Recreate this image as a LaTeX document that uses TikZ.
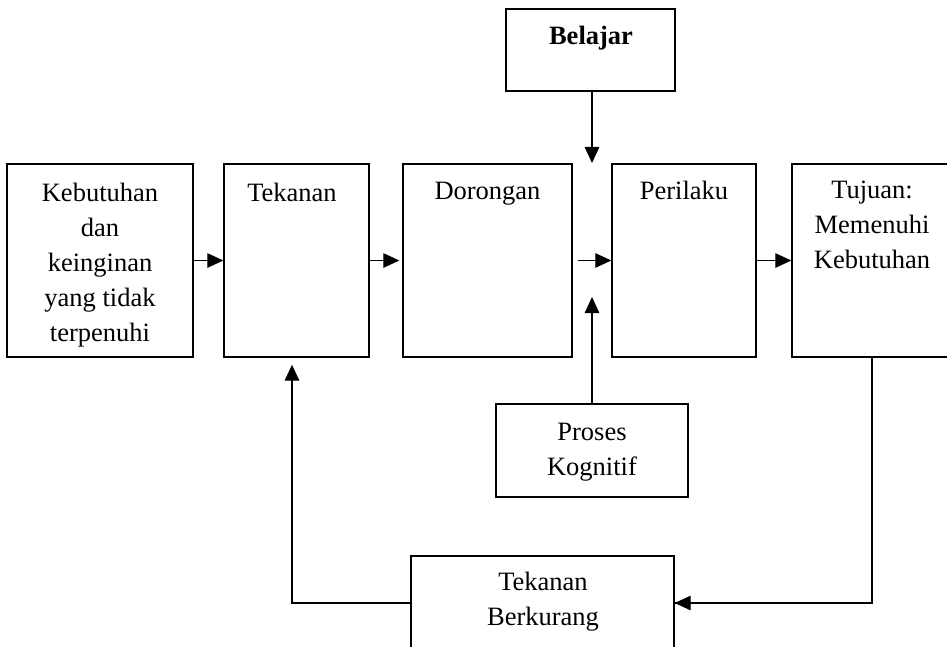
\documentclass[tikz,border=0pt]{standalone}
\usepackage{fontspec}
\setmainfont{Liberation Serif}
\usetikzlibrary{arrows.meta}
\begin{document}
\begin{tikzpicture}[x=1pt,y=-1pt,
  box/.style={draw=black,line width=1.4pt,minimum width=#1,inner sep=0pt,rectangle},
  lbl/.style={anchor=base,inner sep=0pt,font=\fontsize{26.5}{35}\selectfont},
  link/.style={line width=1.3pt,-{Triangle[length=16pt,width=14.5pt]}},
  wire/.style={line width=1.3pt}]
\useasboundingbox (0,0) rectangle (947,647);
\fill[white] (0,0) rectangle (947,647);
\clip (0,0) rectangle (947,647);

% main row of boxes
\node[box=186pt,minimum height=193pt] (need) at (100,260.5) {};
\node[box=145pt,minimum height=193pt] (press) at (296.5,260.5) {};
\node[box=169pt,minimum height=193pt] (drive) at (487.5,260.5) {};
\node[box=144pt,minimum height=193pt] (behav) at (684,260.5) {};
\node[box=160pt,minimum height=193pt] (goal) at (872,260.5) {};

% side boxes
\node[box=169pt,minimum height=82pt] (learn) at (590.5,50) {};
\node[box=192pt,minimum height=93pt] (cogn) at (592,450.5) {};
\node[box=263pt,minimum height=94pt] (relief) at (542.5,603) {};

% texts
\node[lbl] (tneed) at (100,201) {\begin{tabular}[t]{@{}c@{}}Kebutuhan\\dan\\keinginan\\yang tidak\\terpenuhi\end{tabular}};
\node[lbl] (tpress) at (292,201) {Tekanan};
\node[lbl] (tdrive) at (487.5,200) {Dorongan};
\node[lbl] (tbehav) at (684,200) {Perilaku};
\node[lbl] (tgoal) at (872,199) {\begin{tabular}[t]{@{}c@{}}Tujuan:\\Memenuhi\\Kebutuhan\end{tabular}};
\node[lbl] (tlearn) at (591,45) {\textbf{Belajar}};
\node[lbl] (tcogn) at (592,440) {\begin{tabular}[t]{@{}c@{}}Proses\\Kognitif\end{tabular}};
\node[lbl] (trelief) at (543,590) {\begin{tabular}[t]{@{}c@{}}Tekanan\\Berkurang\end{tabular}};

% free ends of the two vertical inputs
\coordinate (learnEnd) at (592,163);
\coordinate (cognEnd) at (592,297);

% flow along the main row
\draw[link] (need.east) -- (press.west);
\draw[link] (press.east) -- ([xshift=-3pt]drive.west);
\draw[link,shorten <=5pt] (drive.east) -- (behav.west);
\draw[link] (behav.east) -- (goal.west);

% influences on behaviour
\draw[link] (learn.south -| learnEnd) -- (learnEnd);
\draw[link] (cogn.north) -- (cognEnd);

% feedback loop
\draw[wire] (goal.south) |- (relief.east);
\draw[link] (goal.south |- relief.east) -- (relief.east);
\draw[link] (relief.west) -| ([xshift=-4.5pt,yshift=-7pt]press.south);
\end{tikzpicture}
\end{document}
